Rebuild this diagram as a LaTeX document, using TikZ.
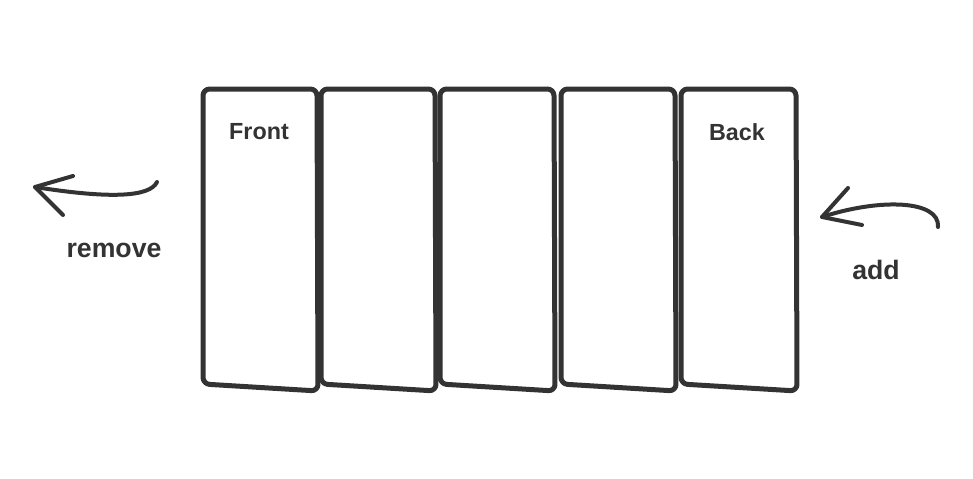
\documentclass[tikz,border=0pt]{standalone}
\usepackage{fontspec}
\setmainfont{Liberation Sans}
\usepackage{tikz}

\definecolor{ink}{HTML}{333333}

\begin{document}
\begin{tikzpicture}[x=0.75pt, y=-0.75pt,
    slot/.style={draw=ink, line width=3.75pt, fill=white, rounded corners=5pt, line join=round},
    hand/.style={draw=ink, line width=3pt, line cap=round, line join=round},
    tag/.style={text=ink, font=\bfseries\fontsize{17.5}{20}\selectfont},
    word/.style={text=ink, font=\bfseries\fontsize{20}{24}\selectfont}]
    \useasboundingbox (0,0) rectangle (973,478);

    % Queue slots
    \foreach \l/\r in {203/317,321/435,440/554,561/675,681/796}{
        \draw[slot] (\l,89) -- (\r,89) -- (\r+1,391) -- (\l,384) -- cycle;
    }

    % Ends of the queue
    \node[tag] (front) at (259,132) {Front};
    \node[tag] (back) at (737,132) {Back};

    % Remove arrow
    \coordinate (rmstart) at (157,182);
    \coordinate (rmtip) at (35,187);
    \draw[hand] (rmstart) .. controls (150,197) and (110,199) .. (rmtip);
    \draw[hand] (73,176) -- (rmtip) -- (63,215);
    \node[word] (remove) at (114,250) {remove};

    % Add arrow
    \coordinate (addstart) at (938,227);
    \coordinate (addtip) at (822,217);
    \draw[hand] (addstart) .. controls (940,200) and (880,198) .. (addtip);
    \draw[hand] (848,188) -- (addtip) -- (862,225);
    \node[word] (add) at (876,270) {add};

\end{tikzpicture}
\end{document}
